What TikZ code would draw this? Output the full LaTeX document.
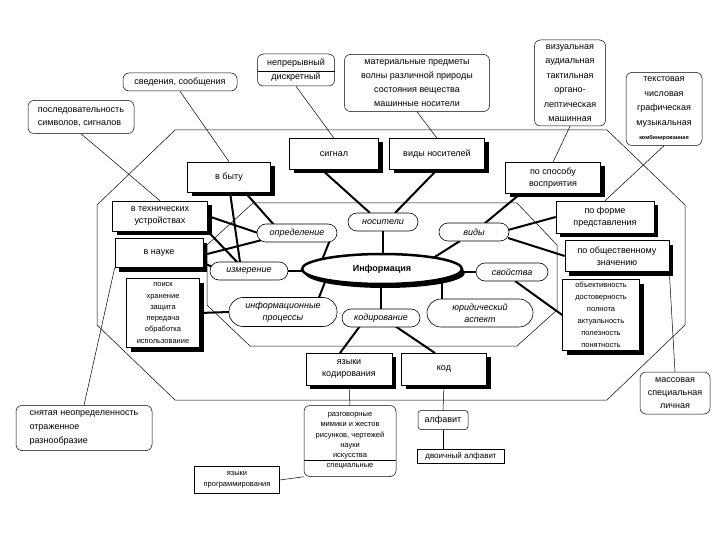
\documentclass[tikz,border=0pt]{standalone}
\usepackage{fontspec}
\setmainfont{Liberation Sans}
\usetikzlibrary{shadows,shapes.geometric}
\begin{document}
\begin{tikzpicture}[x=1pt,y=-1pt,
 font=\fontsize{9}{12}\selectfont,
 sb/.style={draw,fill=white,align=center,inner sep=1pt,line width=0.6pt,
   drop shadow={shadow xshift=4pt,shadow yshift=-4pt,opacity=1,fill=black}},
 el/.style={draw,rounded corners=9pt,fill=white,align=center,inner sep=1pt,font=\fontsize{9}{11}\selectfont\itshape,line width=0.6pt},
 co/.style={draw,rounded corners=6pt,align=center,inner sep=1pt,line width=0.5pt},
 th/.style={line width=2pt},
 tn/.style={line width=0.5pt}]
\useasboundingbox (0,0) rectangle (720,540);
% octagons
\draw[tn] (175,130)--(607,130)--(685,205)--(685,325)--(607,400)--(175,400)--(97,325)--(97,205)--cycle;
\draw[tn] (253,203)--(517,203)--(557,245)--(557,310)--(517,346)--(250,346)--(207,305)--(207,245)--cycle;
% callouts
\node[co,minimum width=114,minimum height=18] (sved) at (180,82) {сведения, сообщения};
\node[co,minimum width=106,minimum height=33,align=left,font=\fontsize{9}{13}\selectfont] (posl) at (81,117) {последовательность\\символов, сигналов};
\node[co,minimum width=77,minimum height=32,font=\fontsize{9}{14}\selectfont] (nepr) at (296,70) {непрерывный\\дискретный};
\draw[tn] (258,71)--(335,71);
\node[co,minimum width=145,minimum height=57,font=\fontsize{9}{14}\selectfont] (mat) at (417,83) {материальные предметы\\волны различной природы\\состояния вещества\\машинные носители};
\node[co,minimum width=71,minimum height=86,font=\fontsize{9}{14.5}\selectfont] (viz) at (570,83) {визуальная\\аудиальная\\тактильная\\органо-\\лептическая\\машинная};
\node[co,minimum width=76,minimum height=73,font=\fontsize{9}{14.5}\selectfont] (tekst) at (664,109) {текстовая\\числовая\\графическая\\музыкальная\\{\fontsize{5.5}{6}\selectfont\bfseries комбинированная}};
\node[co,minimum width=70,minimum height=42,font=\fontsize{9}{13}\selectfont] (mass) at (675,393) {массовая\\специальная\\личная};
\node[co,minimum width=136,minimum height=45,align=left,font=\fontsize{9}{14}\selectfont] (snyat) at (84,428) {снятая неопределенность\\отраженное\\разнообразие};
\node[co,minimum width=92,minimum height=71,inner sep=0pt,font=\fontsize{7.5}{10.2}\selectfont] (razg) at (350,441) {разговорные\\мимики и жестов\\рисунков, чертежей\\науки\\искусства\\специальные};
\draw[tn] (304,460)--(396,460);
\node[co,rounded corners=3pt,minimum width=50,minimum height=19] (alf) at (443,420) {алфавит};
\node[draw,tn,minimum width=87,minimum height=14,inner sep=1pt,font=\fontsize{8}{9}\selectfont] (dvo) at (461,456) {двоичный алфавит};
\node[draw,tn,minimum width=85,minimum height=27,inner sep=1pt,font=\fontsize{7.5}{11}\selectfont,align=center] (yap) at (237,480) {языки\\программирования};
% shadow boxes
\node[sb,minimum width=89,minimum height=31] (sig) at (334,154) {сигнал};
\node[sb,minimum width=95,minimum height=31] (vnos) at (437,154) {виды носителей};
\node[sb,minimum width=83,minimum height=30] (byt) at (229,177) {в быту};
\node[sb,minimum width=95,minimum height=31] (spos) at (553,178) {по способу\\восприятия};
\node[sb,minimum width=95,minimum height=30] (tech) at (160,216) {в технических\\устройствах};
\node[sb,minimum width=88,minimum height=29] (nauk) at (159,253) {в науке};
\node[sb,minimum width=73,minimum height=69,font=\fontsize{7.5}{11.3}\selectfont] (poisk) at (163,313) {поиск\\хранение\\защита\\передача\\обработка\\использование};
\node[sb,minimum width=98,minimum height=32] (forma) at (605,217) {по форме\\представления};
\node[sb,minimum width=104,minimum height=31] (obsh) at (617,256) {по общественному\\значению};
\node[sb,minimum width=77,minimum height=71,font=\fontsize{7.5}{12}\selectfont] (obj) at (601,315) {объективность\\достоверность\\полнота\\актуальность\\полезность\\понятность};
\node[sb,minimum width=86,minimum height=32] (yaz) at (349,369) {языки\\кодирования};
\node[sb,minimum width=85,minimum height=32] (kod) at (444,369) {код};
% thick connectors
\begin{scope}[th]
\draw (sig.south) ++(-12,0) -- (370,213);
\draw (vnos.south) -- (395,213);
\draw (byt.south) ++(1,0) -- (240,262);
\draw (byt.south) ++(16,0) -- (275,226);
\draw (tech.east) -- (258,233);
\draw (tech.south east) -- (238,263);
\draw (nauk.east) ++(0,2) -- (262,240);
\draw (nauk.east) ++(0,10) -- (215,268);
\draw (330,240) -- (322,260);
\draw (poisk.east) -- (229,312);
\draw (318,300) -- (325,282);
\draw (288,271) -- (305,271);
\draw (383,230) -- (383,258);
\draw (381,285) -- (381,310);
\draw (360,326) -- (340,353);
\draw (395,326) -- (435,353);
\draw (430,260) -- (460,241);
\draw (484,224) -- (520,194);
\draw (508,230) -- (forma.west);
\draw (508,238) -- (obsh.west);
\draw (455,272) -- (476,272);
\draw (515,281) -- (obj.west);
\draw (442,283) -- (442,300);
\end{scope}
% ellipses
\node[el,minimum width=80,minimum height=18] (opr) at (297,233) {определение};
\node[el,minimum width=70,minimum height=18] (nos) at (383,222) {носители};
\node[el,minimum width=70,minimum height=18] (vid) at (474,232) {виды};
\node[el,minimum width=78,minimum height=18] (izm) at (249,271) {измерение};
\node[el,minimum width=72,minimum height=18] (svo) at (512,272) {свойства};
\node[el,rounded corners=14pt,minimum width=108,minimum height=29,font=\fontsize{9}{12}\selectfont\itshape] (ipr) at (283,312) {информационные\\процессы};
\node[el,minimum width=78,minimum height=18] (kdr) at (381,318) {кодирование};
\node[el,rounded corners=14pt,minimum width=106,minimum height=28,font=\fontsize{9}{12}\selectfont\itshape] (yur) at (480,313) {юридический\\аспект};
\node[ellipse,draw,line width=2.5pt,fill=white,minimum width=160,minimum height=30,font=\fontsize{9}{12}\selectfont\bfseries,
  drop shadow={shadow xshift=3pt,shadow yshift=-4pt,opacity=1,fill=black}] (inf) at (382,269) {Информация};
% thin connectors
\begin{scope}[tn]
\draw (sved.south) -- (byt.north);
\draw (posl.south) -- (tech.north);
\draw (nepr.south) -- (sig.north);
\draw (mat.south) -- (vnos.north);
\draw (viz.south) -- (spos.north);
\draw (tekst.south) -- (forma.north);
\draw (mass.north) -- (obsh.south east);
\draw (snyat.north) -- (nauk.south west);
\draw (yaz.south) -- (razg.north);
\draw (yap.east) -- (razg.south west);
\draw (kod.south) -- (alf.north);
\draw (alf.south) -- (alf.south|-dvo.north);
\end{scope}
\end{tikzpicture}
\end{document}
